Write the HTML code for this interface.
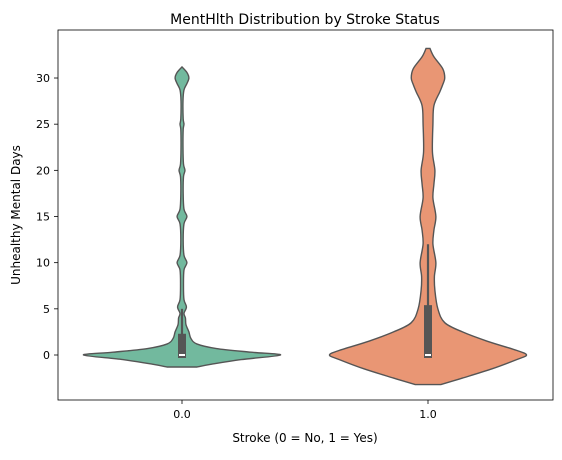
<!DOCTYPE html>
<html><head><meta charset="utf-8"><style>
body{margin:0;background:#fff;font-family:"Liberation Sans","DejaVu Sans",sans-serif}
svg text{font-family:"DejaVu Sans","Liberation Sans",sans-serif;fill:#000}
</style></head><body>
<svg id="chart" width="562" height="455" xmlns="http://www.w3.org/2000/svg">
<text x="305" y="24" text-anchor="middle" font-size="14">MentHlth Distribution by Stroke Status</text>
<g id="plot"></g>
<rect x="58" y="30" width="495" height="370" fill="none" stroke="#000" stroke-width="0.8"/>
<text x="305" y="442" text-anchor="middle" font-size="12">Stroke (0 = No, 1 = Yes)</text>
<text transform="translate(20,215) rotate(-90)" text-anchor="middle" font-size="12">Unhealthy Mental Days</text>
</svg>
<script>
const categories=["0.0","1.0"];
const colors=["#72b99e","#e99674"];
const yTicks=[0,5,10,15,20,25,30];
const v0Y=[-1.3,-1.0,-0.5,0,0.3,0.7,1.2,1.8,2.5,3.3,4.0,4.5,5.2,6.0,7.5,9.2,10,10.8,12.5,14.2,15,15.8,17.5,19.3,20,20.7,22.5,24.4,25,25.6,27.5,28.7,29.4,30,30.6,31.2];
const v0W=[0.15,0.3,0.6,1.0,0.7,0.35,0.15,0.09,0.07,0.04,0.035,0.02,0.045,0.02,0.015,0.02,0.05,0.02,0.012,0.02,0.05,0.02,0.012,0.015,0.03,0.015,0.01,0.012,0.02,0.012,0.01,0.02,0.05,0.07,0.05,0.0];
const v1Y=[-3.2,-2.5,-1.5,-0.5,0,0.5,1.5,2.5,3.5,5,7,8.5,10,12,13.5,15,17,18.5,20,22,25,27,28.5,29.3,30,31,32.3,33.2];
const v1W=[0.13,0.35,0.65,0.9,1.0,0.9,0.6,0.35,0.17,0.1,0.07,0.065,0.08,0.05,0.06,0.08,0.05,0.06,0.07,0.045,0.05,0.06,0.12,0.15,0.17,0.15,0.06,0.02];
const q1=[0,0], med=[0,0], q3=[2.3,5.4], whiskLo=[0,0], whiskHi=[5,12];
const profilesY=[v0Y,v1Y], profilesW=[v0W,v1W];
const X0=182,DX=246,Y0=355,KY=9.233,MAXW=98.5;
const xs=i=>X0+i*DX, ys=v=>Y0-v*KY;
const ns="http://www.w3.org/2000/svg", g=document.getElementById('plot'), svg=document.getElementById('chart');
function mk(t,a,p){const e=document.createElementNS(ns,t);for(const k in a)e.setAttribute(k,a[k]);(p||g).appendChild(e);return e;}
yTicks.forEach(t=>{
 const l=mk('line',{x1:54,x2:58,y1:ys(t),y2:ys(t),stroke:'#000','stroke-width':0.8},svg);
 
 
 const tx=mk('text',{x:50,y:ys(t)+4,'text-anchor':'end','font-size':11},svg);tx.textContent=t;
 
 
});
function curve(pts){let d='M'+pts[0][0]+','+pts[0][1];
 for(let i=0;i<pts.length-1;i++){const p0=pts[Math.max(i-1,0)],p1=pts[i],p2=pts[i+1],p3=pts[Math.min(i+2,pts.length-1)];
  d+=` C${p1[0]+(p2[0]-p0[0])/6},${p1[1]+(p2[1]-p0[1])/6} ${p2[0]-(p3[0]-p1[0])/6},${p2[1]-(p3[1]-p1[1])/6} ${p2[0]},${p2[1]}`;}
 return d;}
categories.forEach((c,i)=>{
 const cx=xs(i),Y=profilesY[i],W=profilesW[i];
 const right=Y.map((y,k)=>[cx+W[k]*MAXW,ys(y)]);
 const left=Y.map((y,k)=>[cx-W[k]*MAXW,ys(y)]).reverse();
 let d=curve(right)+' L'+left[0][0]+','+left[0][1]+curve(left).slice(curve(left).indexOf(' C'))+'Z';
 const p=mk('path',{d:d,fill:colors[i],stroke:'#555','stroke-width':1.4});
 
 
 const w=mk('line',{x1:cx,x2:cx,y1:ys(whiskLo[i]),y2:ys(whiskHi[i]),stroke:'#555','stroke-width':2.2});
 
 
 const b=mk('rect',{x:cx-4,y:ys(q3[i]),width:8,height:ys(q1[i])-ys(q3[i])+3,fill:'#555'});
 
 
 const m=mk('rect',{x:cx-3,y:ys(med[i])-1,width:6,height:2,fill:'#fff'});
 
 
 const t=mk('line',{x1:cx,x2:cx,y1:400,y2:404,stroke:'#000','stroke-width':0.8},svg);
 
 
 const tx=mk('text',{x:cx,y:418,'text-anchor':'middle','font-size':11},svg);tx.textContent=c;
 
 
});
</script>
</body></html>
